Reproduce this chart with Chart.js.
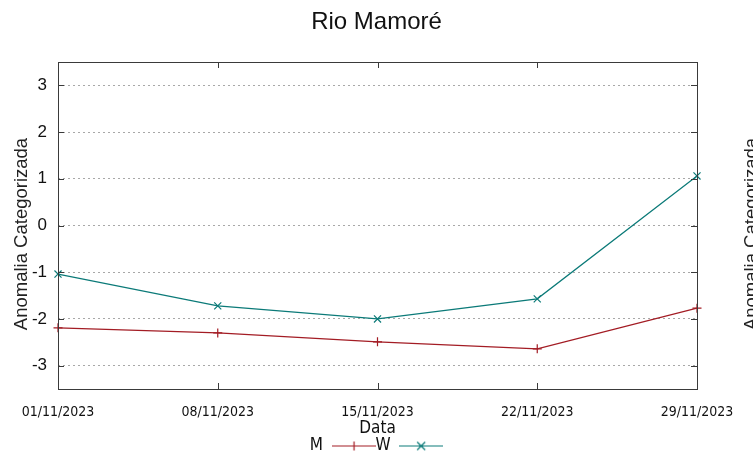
<!DOCTYPE html>
<html>
<head>
<meta charset="utf-8">
<script src="https://cdn.jsdelivr.net/npm/chart.js@4.4.1/dist/chart.umd.min.js"></script>
<style>
  html, body { margin: 0; padding: 0; background: #fff; overflow: hidden; }
  #wrap { width: 753px; height: 459px; }
</style>
</head>
<body>
<div id="wrap"><canvas id="chart" width="753" height="459"></canvas></div>
<script>
const dates = ['01/11/2023', '08/11/2023', '15/11/2023', '22/11/2023', '29/11/2023'];
const mValues = [-2.19, -2.30, -2.49, -2.64, -1.77];
const wValues = [-1.04, -1.72, -2.00, -1.57, 1.06];
const yTicks = [-3, -2, -1, 0, 1, 2, 3];
const yTitle = 'Anomalia Categorizada';

const red = '#a31c24';
const teal = '#0b7a78';
const narrow = "'Liberation Sans Narrow', 'DejaVu Sans Condensed', sans-serif";
const sans = "'Liberation Sans', Arial, sans-serif";

// legend sample like gnuplot: a short line with the marker on it
const makeSample = (color, rot) => {
    const c = document.createElement('canvas');
    c.width = 44;
    c.height = 12;
    const g = c.getContext('2d');
    g.strokeStyle = color;
    g.lineWidth = 1.2;
    g.beginPath();
    g.moveTo(0, 6.5);
    g.lineTo(44, 6.5);
    if (rot) {
        g.moveTo(18, 2.5); g.lineTo(26, 10.5);
        g.moveTo(26, 2.5); g.lineTo(18, 10.5);
    } else {
        g.moveTo(22.5, 2); g.lineTo(22.5, 11);
    }
    g.stroke();
    return c;
};

const drawVertical = (ctx, text, cx, cy) => {
    ctx.save();
    ctx.fillStyle = '#222';
    ctx.font = '18.5px ' + sans;
    ctx.translate(cx, cy);
    ctx.rotate(-Math.PI / 2);
    ctx.textAlign = 'center';
    ctx.textBaseline = 'middle';
    ctx.fillText(text, 0, 0);
    ctx.restore();
};

// box, inward tick marks and both y titles (the right one is cut by the edge)
const frame = {
    id: 'frame',
    afterDatasetsDraw(chart) {
        const { ctx, chartArea: a, scales: { x, y } } = chart;
        ctx.save();
        ctx.strokeStyle = '#3a3a3a';
        ctx.lineWidth = 1;
        ctx.strokeRect(a.left + 0.5, a.top + 0.5, a.right - a.left, a.bottom - a.top);
        ctx.beginPath();
        x.ticks.forEach((t, i) => {
            const px = Math.round(x.getPixelForTick(i)) + 0.5;
            ctx.moveTo(px, a.top); ctx.lineTo(px, a.top + 6);
            ctx.moveTo(px, a.bottom); ctx.lineTo(px, a.bottom - 6);
        });
        y.ticks.forEach(t => {
            const py = Math.round(y.getPixelForValue(t.value)) + 0.5;
            ctx.moveTo(a.left, py); ctx.lineTo(a.left + 6, py);
            ctx.moveTo(a.right, py); ctx.lineTo(a.right - 6, py);
        });
        ctx.stroke();
        ctx.restore();

        drawVertical(ctx, yTitle, 22, 234);
        drawVertical(ctx, yTitle, 752, 234);
    }
};

new Chart(document.getElementById('chart').getContext('2d'), {
    type: 'line',
    data: {
        labels: dates,
        datasets: [{
            label: 'M',
            data: mValues,
            borderColor: red,
            backgroundColor: red,
            borderWidth: 1.2,
            pointStyle: 'cross',
            pointRadius: 4.5,
            pointBorderWidth: 1.2,
            tension: 0,
            clip: false,
            sample: makeSample(red, false)
        }, {
            label: 'W',
            data: wValues,
            borderColor: teal,
            backgroundColor: teal,
            borderWidth: 1.2,
            pointStyle: 'crossRot',
            pointRadius: 5,
            pointBorderWidth: 1.2,
            tension: 0,
            clip: false,
            sample: makeSample(teal, true)
        }]
    },
    options: {
        responsive: false,
        animation: false,
        layout: { padding: { bottom: -5 } },
        plugins: {
            title: {
                display: true,
                text: 'Rio Mamoré',
                color: '#111',
                font: { family: sans, size: 24, weight: 'normal' },
                padding: { top: 8, bottom: 25.2 }
            },
            legend: {
                position: 'bottom',
                rtl: true,
                reverse: true,
                labels: {
                    usePointStyle: true,
                    pointStyleWidth: 44,
                    padding: 0,
                    color: '#111',
                    font: { family: narrow, size: 17 },
                    generateLabels: (chart) => chart.data.datasets.map((ds, i) => ({
                        text: ds.label,
                        pointStyle: ds.sample,
                        fillStyle: ds.borderColor,
                        strokeStyle: ds.borderColor,
                        lineWidth: 0,
                        fontColor: '#111',
                        hidden: false,
                        datasetIndex: i
                    }))
                }
            },
            tooltip: { enabled: false }
        },
        scales: {
            x: {
                offset: false,
                grid: { display: false, drawTicks: false },
                border: { display: false },
                ticks: {
                    color: '#111',
                    font: { family: narrow, size: 14, lineHeight: 1 },
                    padding: 16,
                    maxRotation: 0,
                    autoSkip: false
                },
                title: {
                    display: true,
                    text: 'Data',
                    color: '#111',
                    font: { family: narrow, size: 17, lineHeight: 1 },
                    padding: { top: -15, bottom: 0 }
                }
            },
            y: {
                min: -3.5,
                max: 3.5,
                afterBuildTicks: (scale) => { scale.ticks = yTicks.map(v => ({ value: v })); },
                afterFit: (scale) => { scale.width = 58; },
                grid: { color: '#a8a8a8', lineWidth: 1, drawTicks: false },
                border: { display: false, dash: [2, 3] },
                ticks: {
                    color: '#111',
                    font: { family: sans, size: 17 },
                    padding: 11
                }
            },
            y2: {
                type: 'linear',
                position: 'right',
                afterFit: (scale) => { scale.width = 56; },
                grid: { display: false, drawTicks: false },
                border: { display: false },
                ticks: { display: false }
            }
        }
    },
    plugins: [frame]
});
</script>
</body>
</html>
